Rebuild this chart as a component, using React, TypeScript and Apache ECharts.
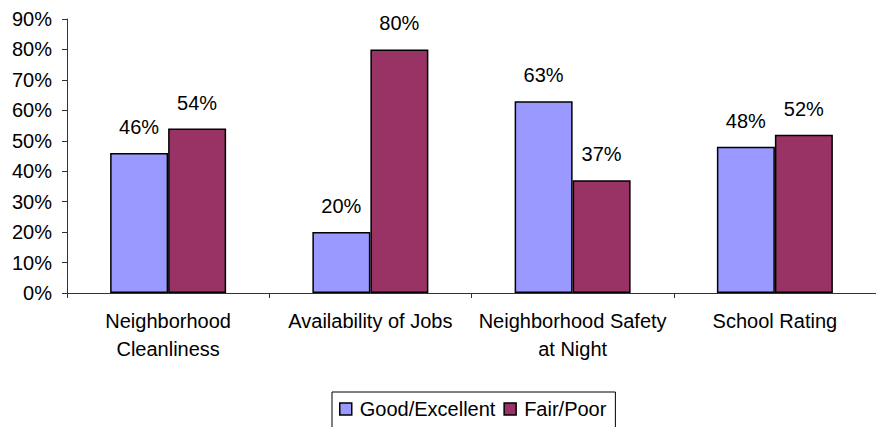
import React, { useEffect, useRef } from "react";
import * as echarts from "echarts";

const categories = ["Neighborhood\nCleanliness", "Availability of Jobs", "Neighborhood Safety\nat Night", "School Rating"];
const goodExcellent = [46, 20, 63, 48];
const fairPoor = [54, 80, 37, 52];
const seriesNames = ["Good/Excellent", "Fair/Poor"];

export default function App() {
  const ref = useRef<HTMLDivElement>(null);
  useEffect(() => {
    const chart = echarts.init(ref.current!, null, { renderer: "svg" });
    const font = "Arial, 'Liberation Sans', sans-serif";
    const label = {
      show: true,
      position: "top" as const,
      distance: 16,
      formatter: "{c}%",
      fontFamily: font,
      fontSize: 20,
      color: "#000",
    };
    chart.setOption({
      animation: false,
      backgroundColor: "#fff",
      grid: { left: 67, top: 19, width: 816, bottom: 134, containLabel: false },
      legend: {
        top: 392,
        left: 332,
        data: seriesNames,
        itemWidth: 12,
        itemHeight: 12,
        itemGap: 8,
        borderColor: "#000",
        borderWidth: 1,
        padding: [7, 9, 10, 7],
        textStyle: { fontFamily: font, fontSize: 20, color: "#000", padding: [0, 0, 0, 3] },
        icon: "rect",
        itemStyle: { borderColor: "#000", borderWidth: 1.5 },
      },
      xAxis: {
        type: "category",
        data: categories,
        axisLine: { lineStyle: { color: "#333", width: 1 } },
        axisTick: { show: true, length: 5, lineStyle: { color: "#333" } },
        axisLabel: {
          fontFamily: font,
          fontSize: 20,
          color: "#000",
          margin: 14,
          lineHeight: 28,
          interval: 0,
        },
      },
      yAxis: {
        type: "value",
        min: 0,
        max: 90,
        interval: 10,
        splitLine: { show: false },
        axisLine: { show: true, lineStyle: { color: "#333", width: 1 } },
        axisTick: { show: true, length: 5, lineStyle: { color: "#333" } },
        axisLabel: {
          formatter: "{value}%",
          fontFamily: font,
          fontSize: 20,
          color: "#000",
          margin: 15,
        },
      },
      series: [
        {
          name: seriesNames[0],
          type: "bar",
          data: goodExcellent,
          barWidth: 58,
          barGap: "0%",
          itemStyle: { color: "#9999FF", borderColor: "#000", borderWidth: 1.5 },
          label,
        },
        {
          name: seriesNames[1],
          type: "bar",
          data: fairPoor,
          barWidth: 58,
          barGap: "0%",
          itemStyle: { color: "#993366", borderColor: "#000", borderWidth: 1.5 },
          label,
        },
      ],
    });
    return () => chart.dispose();
  }, []);
  return (
    <div
      ref={ref}
      style={{ position: "fixed", left: 0, top: 0, width: 876, height: 427 }}
    />
  );
}
